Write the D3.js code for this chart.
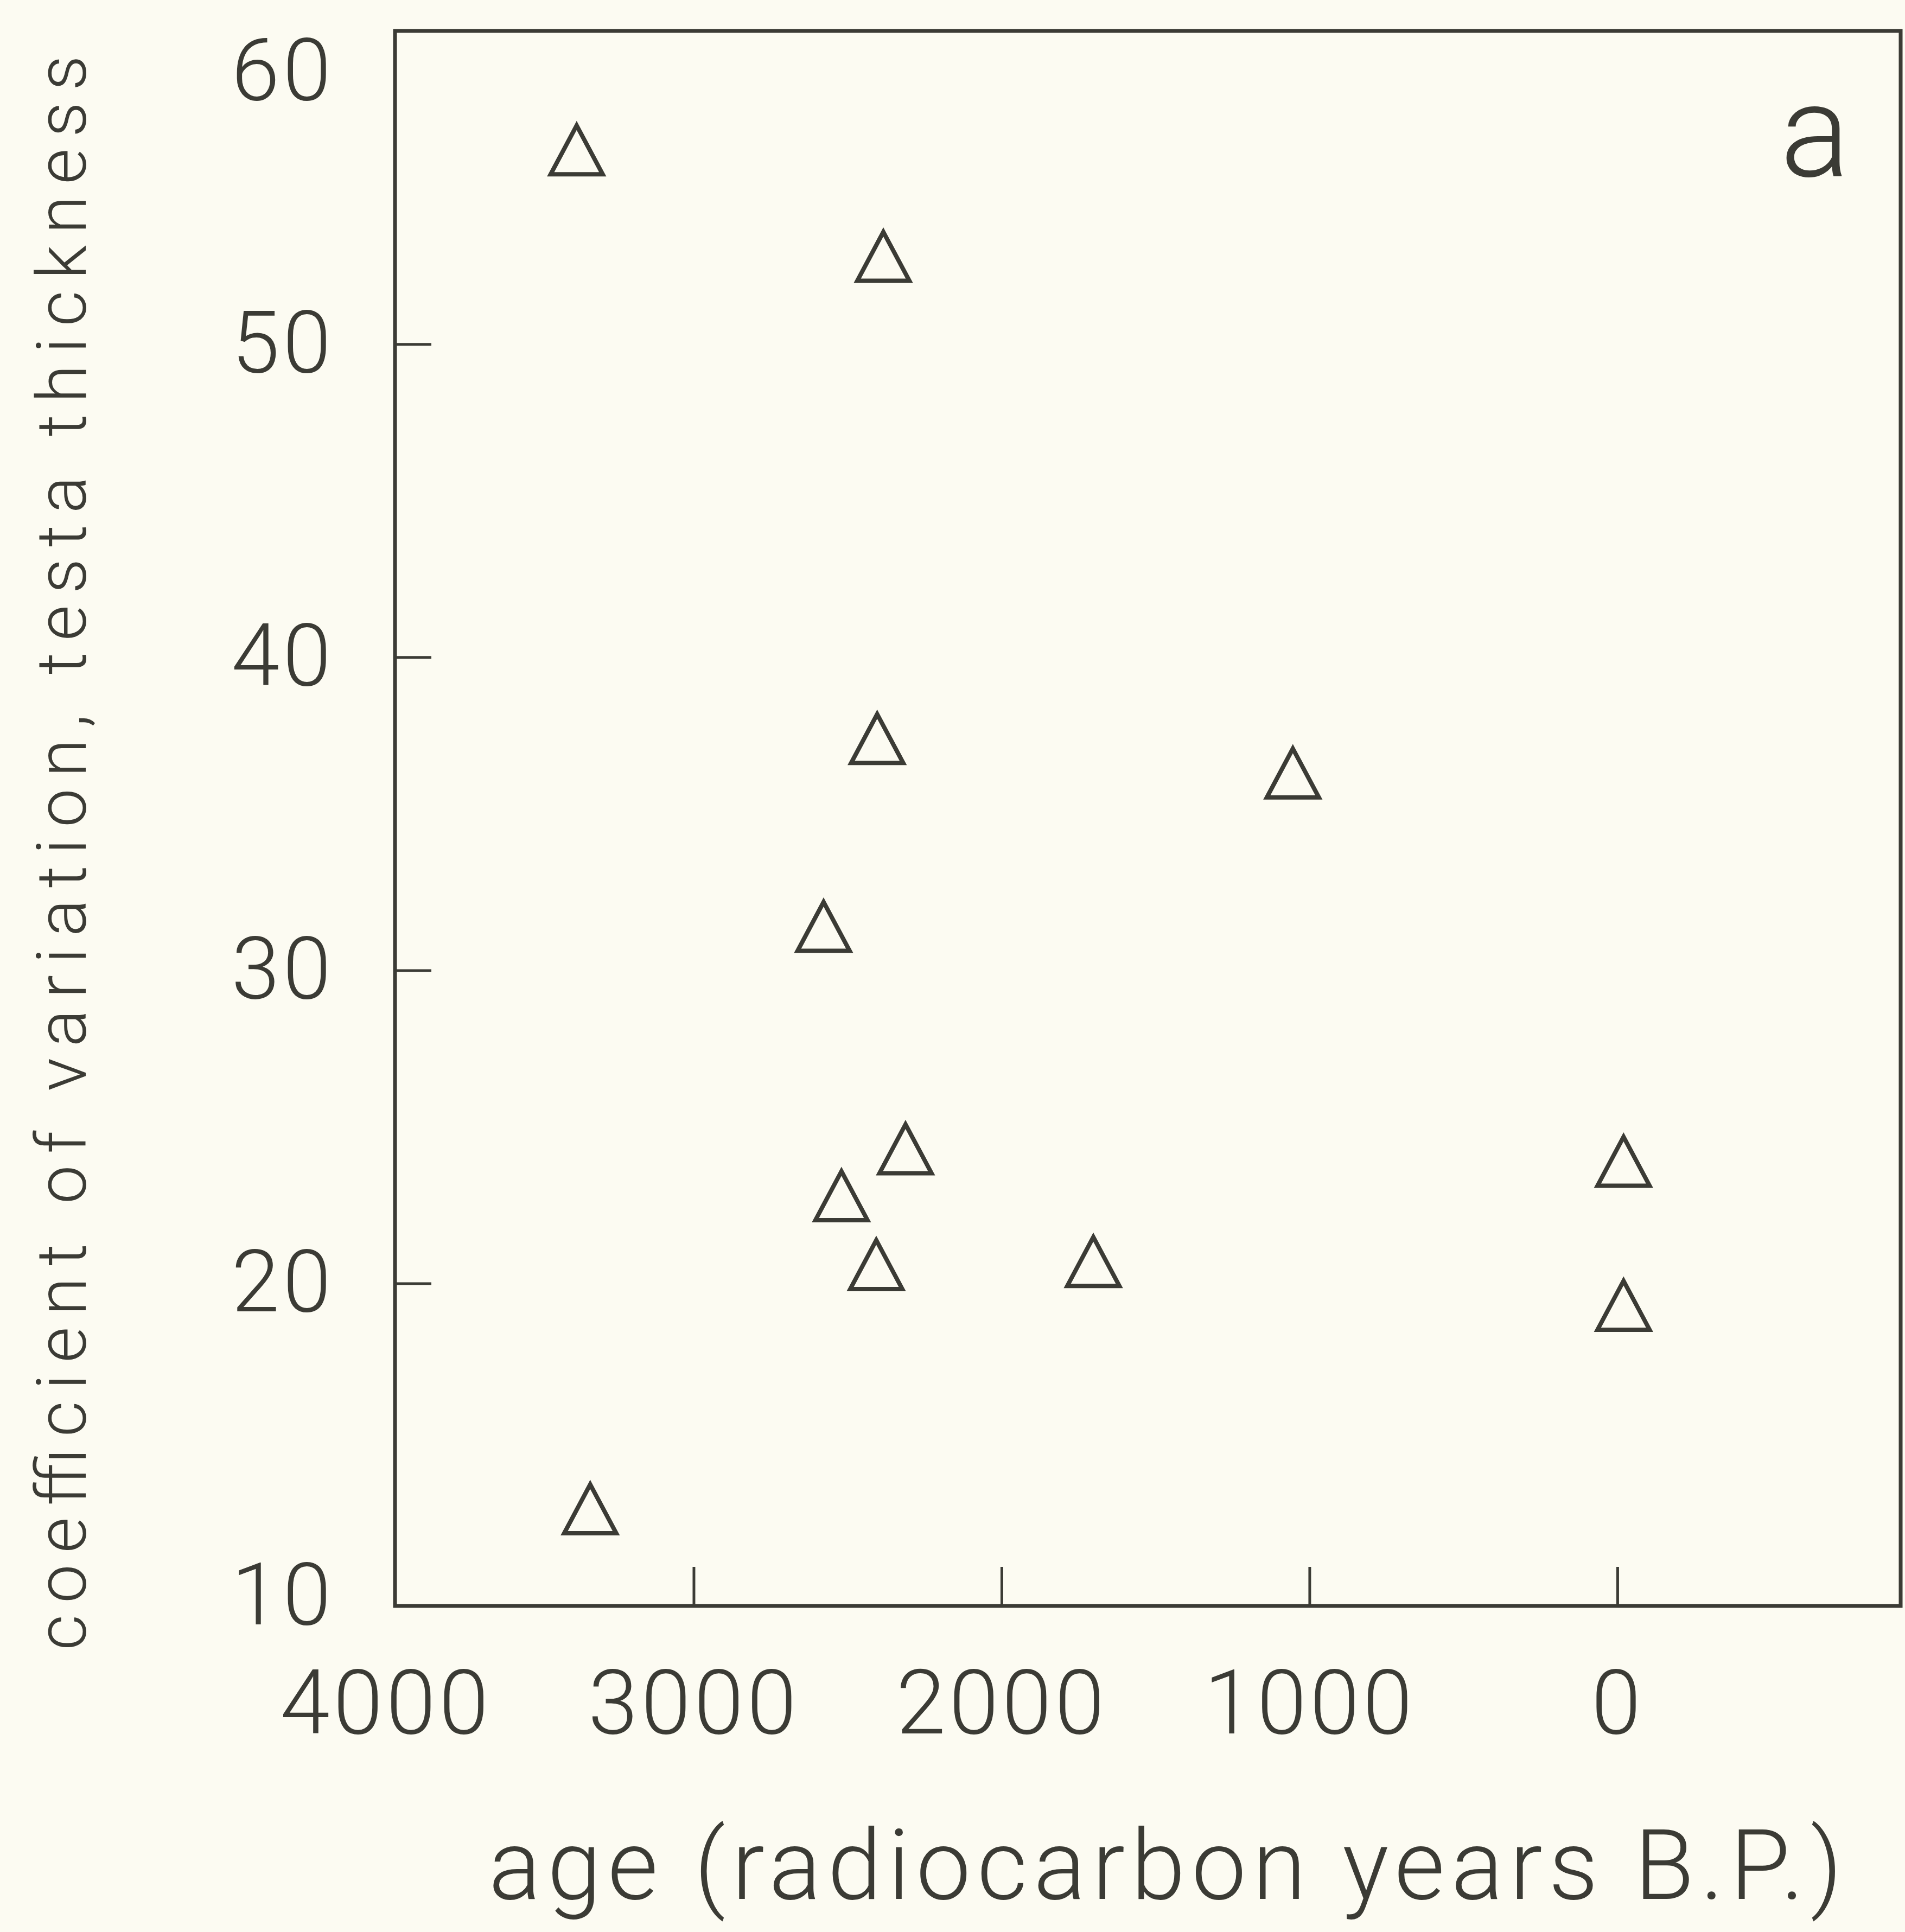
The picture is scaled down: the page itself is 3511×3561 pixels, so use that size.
<!DOCTYPE html>
<html>
<head>
<meta charset="utf-8">
<script src="https://cdn.jsdelivr.net/npm/d3@7"></script>
<style>
  html, body { margin: 0; padding: 0; background: #fcfbf2; }
  text { font-family: Roboto, "Open Sans", sans-serif; font-weight: 300; fill: #3b3b35; }
</style>
</head>
<body>
<svg id="chart"></svg>
<script>
// age in radiocarbon years B.P., CV of testa thickness
const ages = [3380, 2384, 2404, 1054, 2578, 2312, 2520, 2407, 1702, -20, -20, 3336];
const cvValues = [56.2, 52.8, 37.4, 36.3, 31.4, 24.3, 22.8, 20.6, 20.7, 23.9, 19.3, 12.8];
const xTickValues = [4000, 3000, 2000, 1000, 0];
const yTickValues = [10, 20, 30, 40, 50, 60];
const xTitle = 'age (radiocarbon years B.P.)';
const yTitle = 'coefficient of variation, testa thickness';
const panelLabel = 'a';

const width = 3511;
const height = 3561;
const ink = '#3b3b35';
const plot = { left: 728, right: 3503, top: 57, bottom: 2960 };

const svg = d3.select('#chart').attr('width', width).attr('height', height);
svg.append('rect').attr('width', width).attr('height', height).attr('fill', '#fcfbf2');

const xScale = d3.scaleLinear().domain([3970, -920]).range([plot.left, plot.right]);
const yScale = d3.scaleLinear().domain([9.7, 60]).range([plot.bottom, plot.top]);

// frame
svg.append('rect')
    .attr('x', plot.left).attr('y', plot.top)
    .attr('width', plot.right - plot.left).attr('height', plot.bottom - plot.top)
    .attr('fill', 'none').attr('stroke', ink).attr('stroke-width', 7);

// bottom axis, ticks pointing in
const xAxis = svg.append('g')
    .attr('transform', `translate(0, ${plot.bottom})`)
    .call(d3.axisBottom(xScale).tickValues(xTickValues).tickFormat(d3.format('d'))
        .tickSizeInner(-72).tickSizeOuter(0).tickPadding(118));
xAxis.select('.domain').remove();
xAxis.selectAll('.tick line').attr('stroke', ink).attr('stroke-width', 5)
    .filter(d => d === 4000).remove();
xAxis.selectAll('.tick text').attr('font-size', 165).attr('letter-spacing', 6)
    .attr('font-family', 'Roboto, sans-serif').attr('fill', ink);

// left axis, ticks pointing in
const yAxis = svg.append('g')
    .attr('transform', `translate(${plot.left}, 0)`)
    .call(d3.axisLeft(yScale).tickValues(yTickValues)
        .tickSizeInner(-67).tickSizeOuter(0).tickPadding(112));
yAxis.select('.domain').remove();
yAxis.selectAll('.tick line').attr('stroke', ink).attr('stroke-width', 5)
    .filter(d => d === 10 || d === 60).remove();
yAxis.selectAll('.tick text').attr('font-size', 160).attr('letter-spacing', 6)
    .attr('font-family', 'Roboto, sans-serif').attr('fill', ink);
yAxis.selectAll('.tick text').filter(d => d === 60).attr('y', 75);

// open triangle markers
const tri = 'M0,-45L48,45L-48,45Z';
svg.append('g').selectAll('path')
    .data(ages.map((a, i) => ({ age: a, cv: cvValues[i] })))
    .enter()
    .append('path')
    .attr('transform', d => `translate(${xScale(d.age)}, ${yScale(d.cv)})`)
    .attr('d', tri)
    .attr('fill', 'none')
    .attr('stroke', ink)
    .attr('stroke-width', 8)
    .attr('stroke-linejoin', 'miter');

// titles
svg.append('text')
    .attr('x', 2148).attr('y', 3500)
    .attr('text-anchor', 'middle')
    .attr('font-size', 180)
    .attr('textLength', 2495).attr('lengthAdjust', 'spacing')
    .text(xTitle);

svg.append('text')
    .attr('transform', 'translate(158, 1572) rotate(-90)')
    .attr('text-anchor', 'middle')
    .attr('font-size', 128)
    .attr('textLength', 2940).attr('lengthAdjust', 'spacing')
    .text(yTitle);

svg.append('text')
    .attr('x', 3345).attr('y', 325)
    .attr('text-anchor', 'middle')
    .attr('font-size', 240)
    .text(panelLabel);
</script>
</body>
</html>
